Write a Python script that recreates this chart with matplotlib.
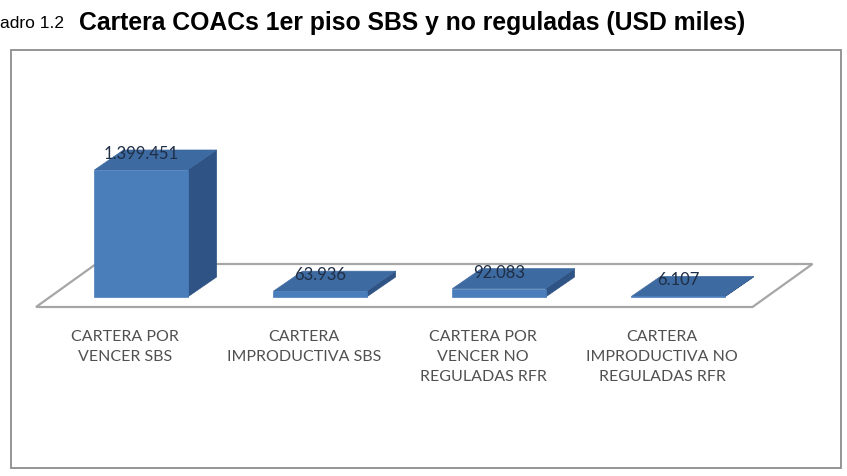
import matplotlib.pyplot as plt
from matplotlib.patches import Polygon, Rectangle
from matplotlib.transforms import IdentityTransform

# data
categories = ["CARTERA POR\nVENCER SBS",
              "CARTERA\nIMPRODUCTIVA SBS",
              "CARTERA POR\nVENCER NO\nREGULADAS RFR",
              "CARTERA\nIMPRODUCTIVA NO\nREGULADAS RFR"]
values = [1399451, 63936, 92083, 6107]

W, H = 847, 476
fig = plt.figure(figsize=(W / 100, H / 100), dpi=100)

# titulo
fig.text(0, 1 - 23 / H, "adro 1.2", fontsize=12.5, family="Liberation Sans",
         va="center", ha="left")
fig.text(79 / W, 1 - 23 / H, "Cartera COACs 1er piso SBS y no reguladas (USD miles)",
         fontsize=17.8, family="Liberation Sans", fontweight="bold", va="center", ha="left")

# marco del grafico
fig.add_artist(Rectangle((11 / W, 1 - 468 / H), 830 / W, 418 / H, transform=fig.transFigure,
                         fill=False, ec="#8c8c8c", lw=1.3))

ax = fig.add_axes([51.5 / W, (H - 297) / H, 716 / W, 127 / H])
ax.set_xlim(-0.5, len(values) - 0.5)
ax.set_ylim(0, max(values))
ax.axis("off")
ax.set_zorder(5)

T = ax.transData.transform
ident = IdentityTransform()
dx, dy = 29, 20
half = 0.26

# piso
x_left, y0 = T((-0.5, 0))
x_right, _ = T((len(values) - 0.5, 0))
floor = [(x_left - 15.5, y0 - 10), (x_right - 15, y0 - 10),
         (x_right + 45, y0 + 33), (x_left + 44.5, y0 + 33)]
fig.add_artist(Polygon(floor, closed=True, fc="white", ec="#a6a6a6", lw=1.6,
                       transform=ident, zorder=1))

front_c, top_c, side_c = "#4a7ebb", "#3d6aa0", "#2e5384"
for i, v in enumerate(values):
    xl, yb = T((i - half, 0))
    xr, yt = T((i + half, v))
    front = [(xl, yb), (xr, yb), (xr, yt), (xl, yt)]
    top = [(xl, yt), (xr, yt), (xr + dx, yt + dy), (xl + dx, yt + dy)]
    side = [(xr, yb), (xr + dx, yb + dy), (xr + dx, yt + dy), (xr, yt)]
    for pts, c in [(side, side_c), (top, top_c), (front, front_c)]:
        fig.add_artist(Polygon(pts, closed=True, fc=c, ec=c, lw=0.5,
                               transform=ident, zorder=2))
    ax.annotate(f"{v:,}".replace(",", "."), xy=(i, v), xytext=(0, 11.5),
                textcoords="offset points", ha="center", va="center",
                fontsize=12, family="Lato", color="#1f2d45",
                annotation_clip=False)
    ax.annotate(categories[i], xy=(i, 0), xytext=(-11.5, -24),
                textcoords="offset points", ha="center", va="top",
                multialignment="center", linespacing=1.55,
                fontsize=11.5, family="Lato", color="#505050", annotation_clip=False)

fig.savefig("out.png", dpi=100, facecolor="white")
